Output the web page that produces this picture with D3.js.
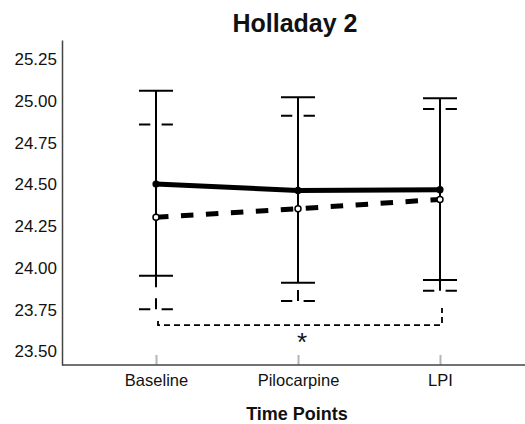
<!DOCTYPE html>
<html lang="en">
<head>
<meta charset="utf-8">
<title>Holladay 2</title>
<script src="https://cdn.jsdelivr.net/npm/d3@7"></script>
<style>
  body { margin: 0; background: #fff; }
  text { font-family: "Liberation Sans", Arial, sans-serif; fill: #111; }
</style>
</head>
<body>
<script>
"use strict";

// data
const timePoints = ["Baseline", "Pilocarpine", "LPI"];
const solidMean  = [24.502, 24.464, 24.468];
const solidUpper = [25.060, 25.021, 25.015];
const solidLower = [23.953, 23.911, 23.927];
const dashMean   = [24.303, 24.354, 24.410];
const dashUpper  = [24.859, 24.911, 24.951];
const dashLower  = [23.752, 23.802, 23.863];
const yTicks = [23.50, 23.75, 24.00, 24.25, 24.50, 24.75, 25.00, 25.25];
const bracket = { from: "Baseline", to: "LPI", y: 23.658, leftTop: 23.682, rightTop: 23.760, mark: 23.59 };

const w = 525, h = 424;

const svg = d3.select("body").append("svg")
  .attr("width", w)
  .attr("height", h);

const x = d3.scalePoint().domain(timePoints).range([156, 440]);
const y = d3.scaleLinear().domain([23.419, 25.364]).range([365, 40]);

// title
svg.append("text")
  .attr("x", 295).attr("y", 32)
  .attr("text-anchor", "middle")
  .style("font-size", "25px").style("font-weight", "bold")
  .text("Holladay 2");

// y axis
const yAxis = svg.append("g")
  .attr("transform", "translate(62,0)")
  .call(d3.axisLeft(y).tickValues(yTicks).tickFormat(d3.format(".2f")).tickSize(0).tickPadding(5));
yAxis.select(".domain").attr("stroke", "#444").attr("stroke-width", 1.5);
yAxis.selectAll("text").style("font-size", "17px").attr("fill", "#111");

// x axis
const xAxis = svg.append("g")
  .attr("transform", "translate(0,365)")
  .call(d3.axisBottom(x).tickSize(-10).tickSizeOuter(0));
xAxis.select(".domain").remove();
xAxis.selectAll(".tick line").attr("stroke", "#b5b5b5").attr("stroke-width", 2);
xAxis.selectAll(".tick text").attr("y", 21).attr("dy", 0).style("font-size", "16.5px").attr("fill", "#111");
svg.append("line")
  .attr("x1", 62).attr("x2", w)
  .attr("y1", 365).attr("y2", 365)
  .attr("stroke", "#444").attr("stroke-width", 1.5);

svg.append("text")
  .attr("x", 297).attr("y", 420)
  .attr("text-anchor", "middle")
  .style("font-size", "18px").style("font-weight", "bold")
  .text("Time Points");

const capW = 34;

// dashed error bars (drawn first, solid ones sit on top)
const dashG = svg.append("g").attr("stroke", "#000").attr("stroke-width", 2).attr("fill", "none");
timePoints.forEach(function(t, i) {
  dashG.append("line")
    .attr("x1", x(t)).attr("x2", x(t))
    .attr("y1", y(dashLower[i])).attr("y2", y(dashUpper[i]))
    .attr("stroke-dasharray", "11,11");
  [dashUpper[i], dashLower[i]].forEach(function(v) {
    dashG.append("line")
      .attr("x1", x(t) - capW / 2).attr("x2", x(t) + capW / 2)
      .attr("y1", y(v)).attr("y2", y(v))
      .attr("stroke-dasharray", "11.3,11.3");
  });
});

// solid error bars
const solidG = svg.append("g").attr("stroke", "#000").attr("stroke-width", 2);
timePoints.forEach(function(t, i) {
  solidG.append("line")
    .attr("x1", x(t)).attr("x2", x(t))
    .attr("y1", y(solidLower[i])).attr("y2", y(solidUpper[i]));
  [solidUpper[i], solidLower[i]].forEach(function(v) {
    solidG.append("line")
      .attr("x1", x(t) - capW / 2).attr("x2", x(t) + capW / 2)
      .attr("y1", y(v)).attr("y2", y(v));
  });
});

// mean lines
const line = d3.line()
  .x(function(d, i) { return x(timePoints[i]); })
  .y(function(d) { return y(d); });

svg.append("path")
  .datum(dashMean)
  .attr("d", line)
  .attr("fill", "none").attr("stroke", "#000")
  .attr("stroke-width", 5)
  .attr("stroke-dasharray", "12.5,12.5");

svg.append("path")
  .datum(solidMean)
  .attr("d", line)
  .attr("fill", "none").attr("stroke", "#000")
  .attr("stroke-width", 5);

svg.selectAll("circle.solid")
  .data(solidMean).enter()
  .append("circle")
  .attr("class", "solid")
  .attr("cx", function(d, i) { return x(timePoints[i]); })
  .attr("cy", function(d) { return y(d); })
  .attr("r", 3.6)
  .attr("fill", "#000");

svg.selectAll("circle.open")
  .data(dashMean).enter()
  .append("circle")
  .attr("class", "open")
  .attr("cx", function(d, i) { return x(timePoints[i]); })
  .attr("cy", function(d) { return y(d); })
  .attr("r", 3)
  .attr("fill", "#fff")
  .attr("stroke", "#000")
  .attr("stroke-width", 1.5);

// significance bracket
const bx1 = x(bracket.from) + 2, bx2 = x(bracket.to) + 2;
svg.append("path")
  .attr("d", "M" + bx1 + "," + y(bracket.leftTop) +
             "V" + y(bracket.y) + "H" + bx2 + "V" + y(bracket.rightTop))
  .attr("fill", "none").attr("stroke", "#000")
  .attr("stroke-width", 1.8)
  .attr("stroke-dasharray", "6,4");

svg.append("text")
  .attr("x", (bx1 + bx2) / 2 + 2)
  .attr("y", y(bracket.mark) + 15)
  .attr("text-anchor", "middle")
  .style("font-size", "26px")
  .text("*");
</script>
</body>
</html>
